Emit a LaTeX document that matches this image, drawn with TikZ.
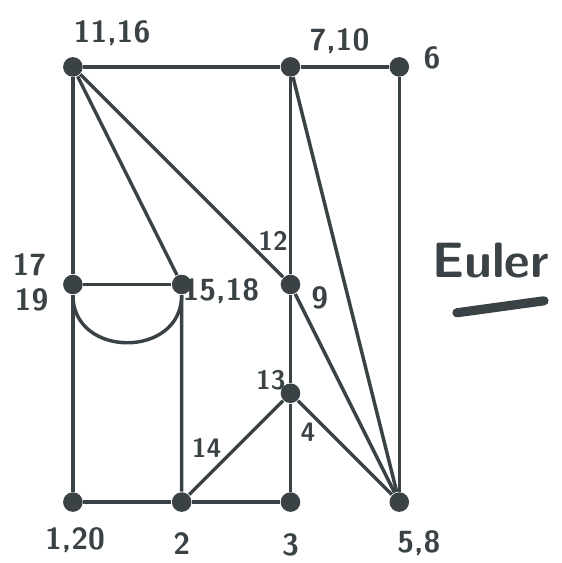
\documentclass[tikz,border=0pt]{standalone}
\usetikzlibrary{calc}
\definecolor{ink}{HTML}{3A4245}
\tikzset{
  vertex/.style={
    shape = circle,
    fill = ink,
    inner sep = 0pt,
    minimum size = 0.18cm
  },
  edge/.style={
    draw = ink,
    line width = 0.9pt
  },
  lab/.style={
    text = ink,
    inner sep = 0pt,
    font = \sffamily\bfseries\footnotesize
  },
  elab/.style={
    lab,
    font = \sffamily\bfseries\scriptsize
  }
}
\begin{document}
\begin{tikzpicture}
    \useasboundingbox (-0.67,-0.56) rectangle (4.495,4.615);
    % vertices
    \node[vertex] (a) at (0,4) {};
    \node[vertex] (b) at (2,4) {};
    \node[vertex] (c) at (3,4) {};
    \node[vertex] (d) at (0,2) {};
    \node[vertex] (e) at (1,2) {};
    \node[vertex] (f) at (2,2) {};
    \node[vertex] (g) at (2,1) {};
    \node[vertex] (h) at (0,0) {};
    \node[vertex] (i) at (1,0) {};
    \node[vertex] (j) at (2,0) {};
    \node[vertex] (k) at (3,0) {};
    % edges
    \draw[edge] (a) -- (b) -- (c) -- (k);
    \draw[edge] (a) -- (d) -- (h) -- (i) -- (j) -- (g) -- (f) -- (b);
    \draw[edge] (a) -- (e) -- (i) -- (g) -- (k);
    \draw[edge] (a) -- (f) -- (k);
    \draw[edge] (b) -- (k);
    \draw[edge] (d) -- (e);
    \draw[edge] (d) to[out=-90, in=-90, looseness=1.5] (e);
    % vertex labels
    \node[lab] (la) at (0.36,4.31) {11,16};
    \node[lab] (lb) at (2.45,4.24) {7,10};
    \node[lab] (lc) at (3.30,4.08) {6};
    \node[lab] (ld) at (-0.40,2.18) {17};
    \node[lab] (ld2) at (-0.38,1.86) {19};
    \node[lab] (le) at (1.36,1.94) {15,18};
    \node[lab] (lf) at (2.27,1.88) {9};
    \node[elab] (lg) at (1.82,1.12) {13};
    \node[lab] (lh) at (0.02,-0.35) {1,20};
    \node[lab] (li) at (1,-0.38) {2};
    \node[lab] (lj) at (2,-0.39) {3};
    \node[lab] (lk) at (3.18,-0.38) {5,8};
    % edge labels
    \node[elab] (laf) at (1.84,2.40) {12};
    \node[elab] (lig) at (1.23,0.50) {14};
    \node[elab] (ljg) at (2.16,0.64) {4};
    % title
    \node[lab, font=\sffamily\bfseries\fontsize{13}{13}\selectfont] (title) at (3.84,2.22) {Euler};
    \coordinate (ul1) at (3.53,1.74);
    \coordinate (ul2) at (4.33,1.85);
    \draw[ink, line width=2.4pt, line cap=round] (ul1) -- (ul2);
\end{tikzpicture}
\end{document}
